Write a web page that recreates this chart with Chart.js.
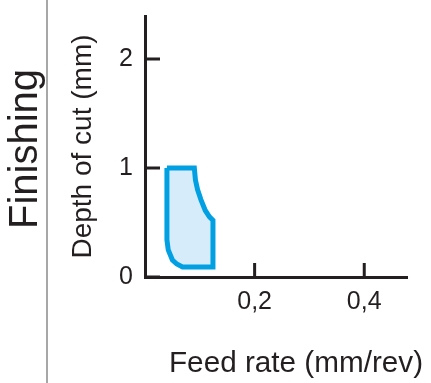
<!DOCTYPE html>
<html>
<head>
<meta charset="utf-8">
<script src="https://cdn.jsdelivr.net/npm/chart.js@4/dist/chart.umd.min.js"></script>
<style>
  html, body { margin: 0; padding: 0; background: #ffffff; }
  canvas { display: block; }
</style>
</head>
<body>
<canvas id="c" width="431" height="383"></canvas>
<script>
// ---- data ----
const feedRate   = [0.040, 0.090, 0.092, 0.096, 0.102, 0.110, 0.118, 0.124, 0.124, 0.0685, 0.058, 0.050, 0.0424, 0.040, 0.040];
const depthOfCut = [1.000, 1.000, 0.890, 0.800, 0.710, 0.610, 0.550, 0.520, 0.092, 0.092,  0.119, 0.156, 0.248,  0.340, 1.000];
const xTickValues = [0.2, 0.4];
const xTickLabels = ['0,2', '0,4'];
const yTickValues = [0, 1, 2];
const yTickLabels = ['0', '1', '2'];
const xTitle = 'Feed rate (mm/rev)';
const yTitle = 'Depth of cut (mm)';
const sideLabel = 'Finishing';

const INK = '#231f20';
const FONT = '"Liberation Sans", Arial, Helvetica, sans-serif';

const points = feedRate.map((x, i) => ({ x: x, y: depthOfCut[i] }));

const decor = {
  id: 'decor',
  afterDraw(chart) {
    const ctx = chart.ctx;
    const xs = chart.scales.x, ys = chart.scales.y;
    const area = chart.chartArea;
    ctx.save();
    // inward tick marks
    ctx.strokeStyle = INK;
    ctx.lineWidth = 3;
    ctx.lineCap = 'butt';
    ctx.beginPath();
    xTickValues.forEach(v => {
      const px = xs.getPixelForValue(v);
      ctx.moveTo(px, area.bottom);
      ctx.lineTo(px, area.bottom - 14);
    });
    yTickValues.forEach(v => {
      const py = ys.getPixelForValue(v);
      ctx.moveTo(area.left, py);
      ctx.lineTo(area.left + 15, py);
    });
    ctx.stroke();
    // separator line
    ctx.strokeStyle = '#8a8a8a';
    ctx.lineWidth = 1.5;
    ctx.beginPath();
    ctx.moveTo(47, 0);
    ctx.lineTo(47, chart.height);
    ctx.stroke();
    // side label
    ctx.fillStyle = INK;
    ctx.font = '40px ' + FONT;
    ctx.textAlign = 'center';
    ctx.textBaseline = 'alphabetic';
    ctx.translate(37, 149);
    ctx.rotate(-Math.PI / 2);
    ctx.fillText(sideLabel, 0, 0);
    ctx.setTransform(1, 0, 0, 1, 0, 0);
    // x axis title
    ctx.font = '29.7px ' + FONT;
    ctx.textAlign = 'center';
    ctx.textBaseline = 'alphabetic';
    ctx.fillText(xTitle, 296, 372);
    ctx.restore();
  }
};

new Chart(document.getElementById('c'), {
  type: 'scatter',
  data: {
    datasets: [{
      data: points,
      showLine: true,
      fill: 'shape',
      backgroundColor: 'rgb(214,236,250)',
      borderColor: 'rgb(0,160,227)',
      borderWidth: 5,
      borderJoinStyle: 'miter',
      pointRadius: 0,
      pointHoverRadius: 0,
      tension: 0
    }]
  },
  options: {
    responsive: false,
    animation: false,
    devicePixelRatio: 1,
    layout: { padding: { left: 0, top: 16, right: 24, bottom: 0 } },
    plugins: { legend: { display: false }, tooltip: { enabled: false }, title: { display: false } },
    scales: {
      x: {
        type: 'linear',
        min: 0,
        max: 0.478,
        afterBuildTicks: s => { s.ticks = xTickValues.map(v => ({ value: v })); },
        afterFit: s => { s.height = 106; s.paddingLeft = 0; s.paddingRight = 0; },
        ticks: {
          callback: (v, i) => xTickLabels[i],
          color: INK,
          font: { family: FONT, size: 25 },
          padding: 10,
          maxRotation: 0,
          autoSkip: false
        },
        grid: { display: false, drawTicks: false },
        border: { display: true, color: INK, width: 3 }
      },
      y: {
        type: 'linear',
        min: 0,
        max: 2.394,
        afterBuildTicks: s => { s.ticks = yTickValues.map(v => ({ value: v })); },
        afterFit: s => { s.width = 145; s.paddingTop = 0; s.paddingBottom = 0; },
        ticks: {
          callback: (v, i) => yTickLabels[i],
          color: INK,
          font: { family: FONT, size: 25 },
          padding: 12,
          autoSkip: false
        },
        grid: { display: false, drawTicks: false },
        border: { display: true, color: INK, width: 3 },
        title: {
          display: true,
          text: yTitle,
          color: INK,
          font: { family: FONT, size: 28 },
          padding: { top: 66, bottom: 0 }
        }
      }
    }
  },
  plugins: [decor]
});
</script>
</body>
</html>
